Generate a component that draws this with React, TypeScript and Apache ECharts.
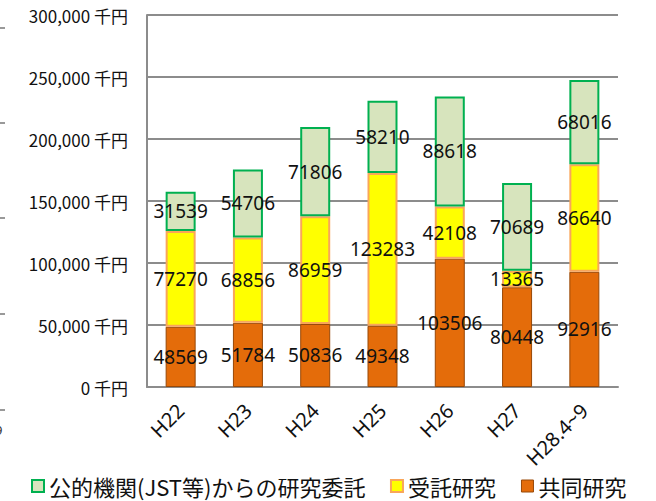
import React, { useEffect, useRef } from "react";
import * as echarts from "echarts";

const categories = ["H22", "H23", "H24", "H25", "H26", "H27", "H28.4~9"];
const jointResearch = [48569, 51784, 50836, 49348, 103506, 80448, 92916];
const contractResearch = [77270, 68856, 86959, 123283, 42108, 13365, 86640];
const publicCommission = [31539, 54706, 71806, 58210, 88618, 70689, 68016];
const yTicks = { min: 0, max: 300000, interval: 50000 };
const seriesNames = ["公的機関(JST等)からの研究委託", "受託研究", "共同研究"];

const LATIN = "'Noto Sans', 'Noto Sans CJK JP', sans-serif";
const CJK = "'Noto Sans CJK JP', 'Noto Sans', sans-serif";

export default function App() {
  const ref = useRef<HTMLDivElement>(null);
  useEffect(() => {
    if (!ref.current) return;
    const chart = echarts.init(ref.current, undefined, { renderer: "svg" });
    const label = {
      show: true,
      position: "inside",
      color: "#111",
      fontSize: 19,
      fontFamily: LATIN,
    };
    const mk = (name: string, data: number[], fill: string, border: string, bw: number) => ({
      name,
      type: "bar",
      stack: "total",
      data,
      barWidth: 30,
      itemStyle: { color: fill, borderColor: border, borderWidth: bw },
      label,
    });
    chart.setOption({
      animation: false,
      grid: { left: 147, right: 38, top: 15, bottom: 114 },
      legend: {
        left: 31,
        top: 475,
        padding: 0,
        itemWidth: 12,
        itemHeight: 12,
        itemGap: 25,
        icon: "rect",
        textStyle: { fontSize: 22, lineHeight: 22, color: "#111", fontFamily: CJK },
        data: [
          { name: seriesNames[0], itemStyle: { color: "#D7E4BD", borderColor: "#00B050", borderWidth: 2 } },
          { name: seriesNames[1], itemStyle: { color: "#FFFF00", borderColor: "#F9A65A", borderWidth: 2 } },
          { name: seriesNames[2], itemStyle: { color: "#E46C0A", borderColor: "#984807", borderWidth: 1 } },
        ],
      },
      xAxis: {
        type: "category",
        data: categories,
        axisLine: { lineStyle: { color: "#8c8c8c", width: 2 } },
        axisTick: { show: false },
        axisLabel: {
          rotate: 45,
          margin: 20,
          fontSize: 20,
          color: "#111",
          fontFamily: LATIN,
        },
      },
      yAxis: {
        type: "value",
        min: yTicks.min,
        max: yTicks.max,
        interval: yTicks.interval,
        axisLine: { show: true, lineStyle: { color: "#8c8c8c", width: 2 } },
        axisTick: { show: false },
        splitLine: { lineStyle: { color: "#8c8c8c", width: 2 } },
        axisLabel: {
          margin: 19,
          fontSize: 17,
          color: "#111",
          fontFamily: CJK,
          formatter: (v: number) => v.toLocaleString("en-US") + " 千円",
        },
      },
      graphic: [
        ...[28, 123, 218, 314, 410].map((y) => ({
          type: "line",
          shape: { x1: 0, y1: y, x2: 5, y2: y },
          style: { stroke: "#999", lineWidth: 2 },
        })),
        {
          type: "text",
          x: -5,
          y: 423,
          style: { text: "9", fontSize: 13, fill: "#333", fontFamily: LATIN },
        },
      ],
      series: [
        mk(seriesNames[2], jointResearch, "#E46C0A", "#984807", 1),
        mk(seriesNames[1], contractResearch, "#FFFF00", "#F9A65A", 2),
        mk(seriesNames[0], publicCommission, "#D7E4BD", "#00B050", 2),
      ],
    });
    return () => chart.dispose();
  }, []);
  return (
    <div
      ref={ref}
      style={{ position: "fixed", left: 0, top: 0, width: 656, height: 501, background: "#fff" }}
    />
  );
}
